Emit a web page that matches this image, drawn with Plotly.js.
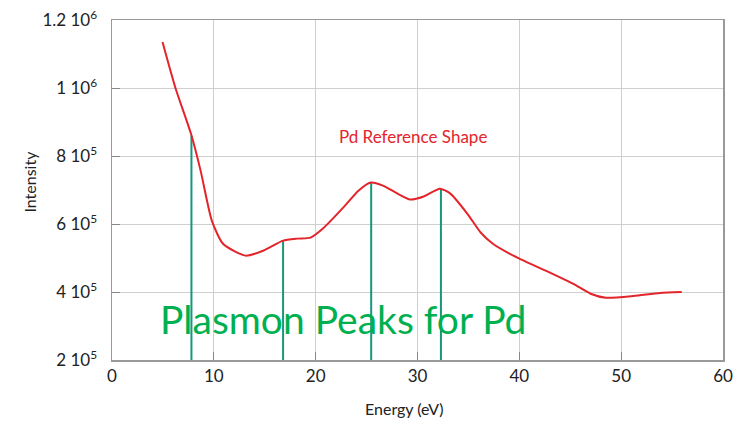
<!DOCTYPE html>
<html><head><meta charset="utf-8">
<script src="https://cdn.plot.ly/plotly-3.0.1.min.js"></script>
<style>html,body{margin:0;padding:0;background:#fff}#chart{width:744px;height:424px}</style>
</head><body><div id="chart"></div>
<script>
// Pd reference shape (energy in eV, intensity)
const energy = [4.96, 6.2, 7.8, 8.7, 9.8, 10.9, 13.1, 14.9, 16.8, 18.2, 19.5, 20.8, 22.7, 24.2, 25.4, 26.6, 28.0, 29.3, 30.6, 32.2, 33.2, 34.9, 36.2, 37.4, 39.8, 43.0, 45.3, 47.0, 48.5, 51.2, 53.8, 55.95];
const intensity = [1135000, 1003000, 861000, 757000, 610000, 542000, 507000, 522000, 551000, 557000, 560000, 589000, 648000, 698000, 722000, 713000, 690000, 672000, 681000, 704000, 690000, 630000, 575000, 542000, 501000, 457000, 424000, 395000, 383000, 388000, 397000, 400000];
// Plasmon peak markers
const peakEnergy = [7.8, 16.8, 25.45, 32.3];
const peakHeight = [860000, 551000, 722000, 704000];
const baseValue = 200000;
// Tick labels
const yTickVals = [200000, 400000, 600000, 800000, 1000000, 1200000];
const yTickText = ['2 10<sup>5</sup>', '4 10<sup>5</sup>', '6 10<sup>5</sup>', '8 10<sup>5</sup>', '1 10<sup>6</sup>', '1.2 10<sup>6</sup>'];
const xTickVals = [0, 10, 20, 30, 40, 50, 60];

const px = [], py = [];
peakEnergy.forEach((e, i) => { px.push(e, e, null); py.push(baseValue, peakHeight[i], null); });

const font = 'Lato, "Open Sans", sans-serif';
const traces = [
  {x: px, y: py, mode: 'lines', line: {color: '#17977a', width: 2}, hoverinfo: 'skip'},
  {x: energy, y: intensity, mode: 'lines', line: {color: '#e3242b', width: 2, shape: 'spline', smoothing: 0.6}}
];
const plotW = 744 - 111.5 - 21, plotH = 424 - 20 - 64;
const layout = {
  width: 744, height: 424,
  margin: {l: 111.5, r: 21, t: 20, b: 64},
  paper_bgcolor: '#fff', plot_bgcolor: '#fff',
  showlegend: false,
  font: {family: font, color: '#222', size: 16},
  xaxis: {
    range: [0, 60], tickvals: xTickVals, ticks: 'inside', ticklen: 8, tickcolor: '#888',
    showgrid: true, gridcolor: '#cfcfcf', gridwidth: 1,
    showline: true, linecolor: '#999', linewidth: 1.5, mirror: true, zeroline: false,
    tickfont: {size: 17, family: font, color: '#222'}, ticklabelstandoff: 0
  },
  yaxis: {
    range: [200000, 1200000], tickvals: yTickVals, ticktext: yTickText, ticks: 'inside', ticklen: 8, tickcolor: '#888',
    showgrid: true, gridcolor: '#cfcfcf', gridwidth: 1,
    showline: true, linecolor: '#999', linewidth: 1.5, mirror: true, zeroline: false,
    tickfont: {size: 17, family: font, color: '#222'}, ticklabelstandoff: 10
  },
  annotations: [
    {text: 'Energy (eV)', showarrow: false, xref: 'paper', yref: 'paper', xanchor: 'center', yanchor: 'middle',
     x: (404 - 111.5) / plotW, y: (360 - 408) / plotH, font: {size: 16, family: font, color: '#222'}},
    {text: 'Intensity', textangle: -90, showarrow: false, xref: 'paper', yref: 'paper', xanchor: 'center', yanchor: 'middle',
     x: (28 - 111.5) / plotW, y: (360 - 182) / plotH, font: {size: 16, family: font, color: '#222'}},
    {text: 'Pd Reference Shape', x: 0.369, xref: 'paper', y: 858000, yref: 'y', xanchor: 'left', yanchor: 'middle', showarrow: false,
     font: {size: 17, family: font, color: '#e3242b'}},
    {text: 'Plasmon Peaks for Pd', x: 0.075, xref: 'paper', y: 320000, yref: 'y', xanchor: 'left', yanchor: 'middle', showarrow: false,
     font: {size: 39, family: font, color: '#00b050'}}
  ]
};
Plotly.newPlot('chart', traces, layout, {staticPlot: true});
</script></body></html>
